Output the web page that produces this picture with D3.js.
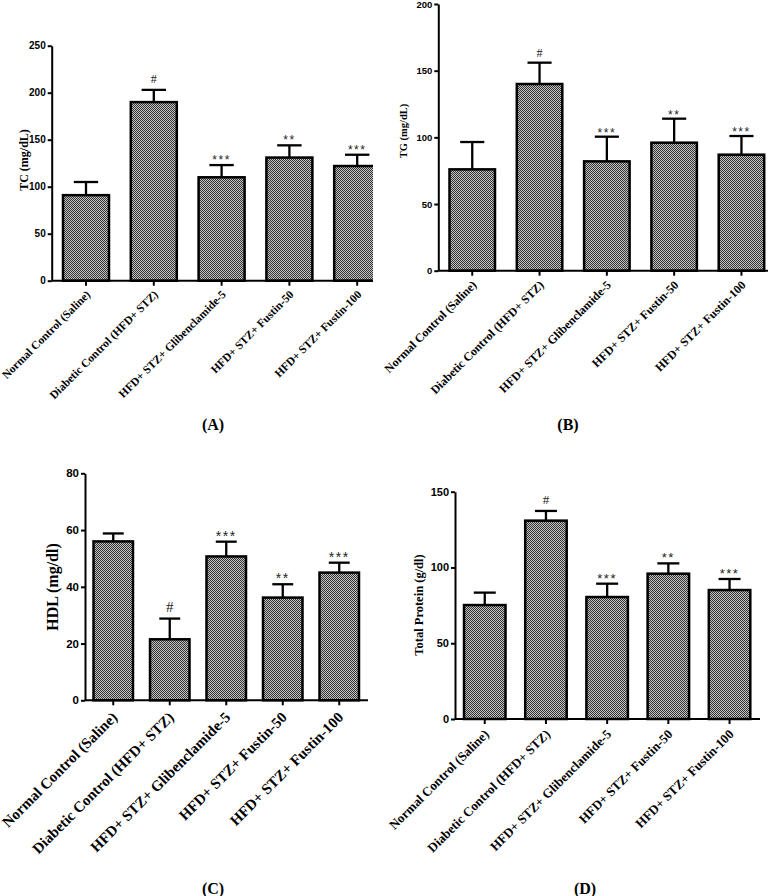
<!DOCTYPE html>
<html>
<head>
<meta charset="utf-8">
<script src="https://cdn.jsdelivr.net/npm/d3@7"></script>
<style>
  html, body { margin: 0; padding: 0; background: #fff; }
  svg { display: block; }
</style>
</head>
<body>
<svg id="chart" width="777" height="896"></svg>
<script>
// ---------------- DATA ----------------
const categories = [
  "Normal Control (Saline)",
  "Diabetic Control (HFD+ STZ)",
  "HFD+ STZ+ Glibenclamide-5",
  "HFD+ STZ+ Fustin-50",
  "HFD+ STZ+ Fustin-100"
];
const significance = ["", "#", "***", "**", "***"];

const tcMean = [91, 190, 110, 131, 122];
const tcSem  = [14, 13, 13, 13, 12];
const tcTicks = [0, 50, 100, 150, 200, 250];

const tgMean = [76, 140, 82, 96, 87];
const tgSem  = [20.5, 16, 18.5, 18, 14];
const tgTicks = [0, 50, 100, 150, 200];

const hdlMean = [56, 21.5, 50.7, 36.2, 45];
const hdlSem  = [2.8, 7.3, 5.2, 4.7, 3.5];
const hdlTicks = [0, 20, 40, 60, 80];

const tpMean = [75.2, 130.9, 80.5, 95.9, 85.1];
const tpSem  = [8.2, 6.4, 8.8, 6.8, 7.3];
const tpTicks = [0, 50, 100, 150];

// ---------------- LAYOUT ----------------
const panels = [
  { mean: tcMean, sem: tcSem, ticks: tcTicks, yMax: 250, yLabel: "TC (mg/dL)", tag: "(A)",
    axisX: 51.7, y0: 280.7, yTop: 45.7, firstBar: 63, step: 67.8, barW: 46, xEnd: 372, clipX: 373,
    tickFont: 10, xFont: 11.5, yFont: 12, yLabelX: 24, yLabelY: 160, tagX: 213, tagY: 430, tagFont: 16,
    starFont: 12, hashFont: 12, gap: 3 },
  { mean: tgMean, sem: tgSem, ticks: tgTicks, yMax: 200, yLabel: "TG (mg/dL)", tag: "(B)",
    axisX: 438.3, y0: 270.7, yTop: 4, firstBar: 449.5, step: 67.3, barW: 45.5, xEnd: 768, clipX: 777,
    tickFont: 9.5, xFont: 12, yFont: 10.5, yLabelX: 403, yLabelY: 131, tagX: 568, tagY: 430, tagFont: 16,
    starFont: 12, hashFont: 12, gap: 2 },
  { mean: hdlMean, sem: hdlSem, ticks: hdlTicks, yMax: 80, yLabel: "HDL (mg/dl)", tag: "(C)",
    axisX: 85, y0: 700.3, yTop: 473.3, firstBar: 93.5, step: 56.5, barW: 39.5, xEnd: 368, clipX: 777,
    tickFont: 11.5, xFont: 15, yFont: 16, yLabelX: 52, yLabelY: 587, tagX: 213, tagY: 894, tagFont: 16,
    starFont: 14, hashFont: 15, gap: 3 },
  { mean: tpMean, sem: tpSem, ticks: tpTicks, yMax: 150, yLabel: "Total Protein (g/dl)", tag: "(D)",
    axisX: 455, y0: 719, yTop: 491.7, firstBar: 464, step: 61.2, barW: 41.5, xEnd: 760, clipX: 777,
    tickFont: 11, xFont: 13, yFont: 12.5, yLabelX: 419, yLabelY: 605, tagX: 585, tagY: 894, tagFont: 16,
    starFont: 13, hashFont: 13, gap: 3 }
];

const serif = "'Liberation Serif', 'Times New Roman', serif";
const sans = "'Liberation Sans', Arial, sans-serif";

const svg = d3.select("#chart");
const defs = svg.append("defs");

// halftone checker fill
const pat = defs.append("pattern")
  .attr("id", "dots").attr("patternUnits", "userSpaceOnUse")
  .attr("width", 2).attr("height", 2);
pat.append("rect").attr("width", 2).attr("height", 2).attr("fill", "#c4c4c4");
pat.append("rect").attr("x", 0).attr("y", 0).attr("width", 1).attr("height", 1).attr("fill", "#333");
pat.append("rect").attr("x", 1).attr("y", 1).attr("width", 1).attr("height", 1).attr("fill", "#333");

panels.forEach((p, pi) => {
  const n = categories.length;
  const pInner = 1 - p.barW / p.step;
  const pOuter = (p.firstBar - p.axisX) / p.step;
  const xEndRange = p.axisX + p.step * (n - pInner + 2 * pOuter);

  const x = d3.scaleBand().domain(categories)
    .range([p.axisX, xEndRange]).paddingInner(pInner).paddingOuter(pOuter);
  const y = d3.scaleLinear().domain([0, p.yMax]).range([p.y0, p.yTop]);

  const clipId = "clip" + pi;
  defs.append("clipPath").attr("id", clipId)
    .append("rect").attr("x", 0).attr("y", 0).attr("width", p.clipX).attr("height", 896);

  const g = svg.append("g").attr("clip-path", `url(#${clipId})`);

  const rows = categories.map((c, i) => ({ c, m: p.mean[i], s: p.sem[i], sig: significance[i] }));

  // error bars
  const capW = p.barW * 0.53;
  const eb = g.append("g");
  rows.forEach(d => {
    const cx = x(d.c) + x.bandwidth() / 2;
    eb.append("line").attr("x1", cx).attr("x2", cx)
      .attr("y1", y(d.m)).attr("y2", y(d.m + d.s))
      .attr("stroke", "#000").attr("stroke-width", 2.3);
    eb.append("line").attr("x1", cx - capW / 2).attr("x2", cx + capW / 2)
      .attr("y1", y(d.m + d.s)).attr("y2", y(d.m + d.s))
      .attr("stroke", "#000").attr("stroke-width", 2.3);
  });

  // bars
  g.append("g").selectAll("rect").data(rows).join("rect")
    .attr("x", d => x(d.c))
    .attr("y", d => y(d.m))
    .attr("width", x.bandwidth())
    .attr("height", d => y(0) - y(d.m))
    .attr("fill", "url(#dots)")
    .attr("stroke", "#000")
    .attr("stroke-width", 2.5);

  // significance marks
  g.append("g").selectAll("text").data(rows.filter(d => d.sig)).join("text")
    .attr("x", d => x(d.c) + x.bandwidth() / 2)
    .attr("y", d => d.sig === "#" ? y(d.m + d.s) - p.gap - 4 : y(d.m + d.s) - p.gap + 2)
    .attr("text-anchor", "middle")
    .attr("font-family", d => d.sig === "#" ? serif : sans)
    .attr("font-size", d => d.sig === "#" ? p.hashFont : p.starFont)
    .attr("letter-spacing", d => d.sig === "#" ? 0 : 1.5)
    .attr("fill", "#222")
    .text(d => d.sig);

  // y axis
  const yAxis = d3.axisLeft(y).tickValues(p.ticks).tickSize(4).tickSizeOuter(0).tickPadding(2);
  const ya = svg.append("g").attr("transform", `translate(${p.axisX},0)`).call(yAxis);
  ya.select(".domain").attr("stroke", "#000").attr("stroke-width", 2);
  ya.selectAll(".tick line").attr("stroke", "#000").attr("stroke-width", 2);
  ya.selectAll(".tick text").attr("font-family", sans).attr("font-weight", "bold")
    .attr("font-size", p.tickFont).attr("fill", "#000");

  // x axis
  const xAxis = d3.axisBottom(x).tickSize(5).tickSizeOuter(0);
  const xa = g.append("g").attr("transform", `translate(0,${p.y0})`).call(xAxis);
  xa.select(".domain").remove();
  xa.append("line").attr("x1", p.axisX).attr("x2", p.xEnd).attr("y1", 0).attr("y2", 0)
    .attr("stroke", "#000").attr("stroke-width", 2);
  xa.selectAll(".tick line").attr("stroke", "#000").attr("stroke-width", 2);
  const tx = 5, ty = p.xFont + 3;
  xa.selectAll(".tick text")
    .attr("x", 0).attr("y", 0).attr("dy", null)
    .attr("transform", `translate(${tx},${ty}) rotate(-45)`)
    .attr("text-anchor", "end")
    .attr("font-family", serif).attr("font-weight", "bold")
    .attr("font-size", p.xFont).attr("fill", "#000");

  // y label
  svg.append("text")
    .attr("transform", `translate(${p.yLabelX},${p.yLabelY}) rotate(-90)`)
    .attr("text-anchor", "middle").attr("dominant-baseline", "central")
    .attr("font-family", serif).attr("font-weight", "bold")
    .attr("font-size", p.yFont).attr("fill", "#000")
    .text(p.yLabel);

  // panel tag
  svg.append("text")
    .attr("x", p.tagX).attr("y", p.tagY)
    .attr("text-anchor", "middle")
    .attr("font-family", serif).attr("font-weight", "bold")
    .attr("font-size", p.tagFont).attr("fill", "#000")
    .text(p.tag);
});
</script>
</body>
</html>
